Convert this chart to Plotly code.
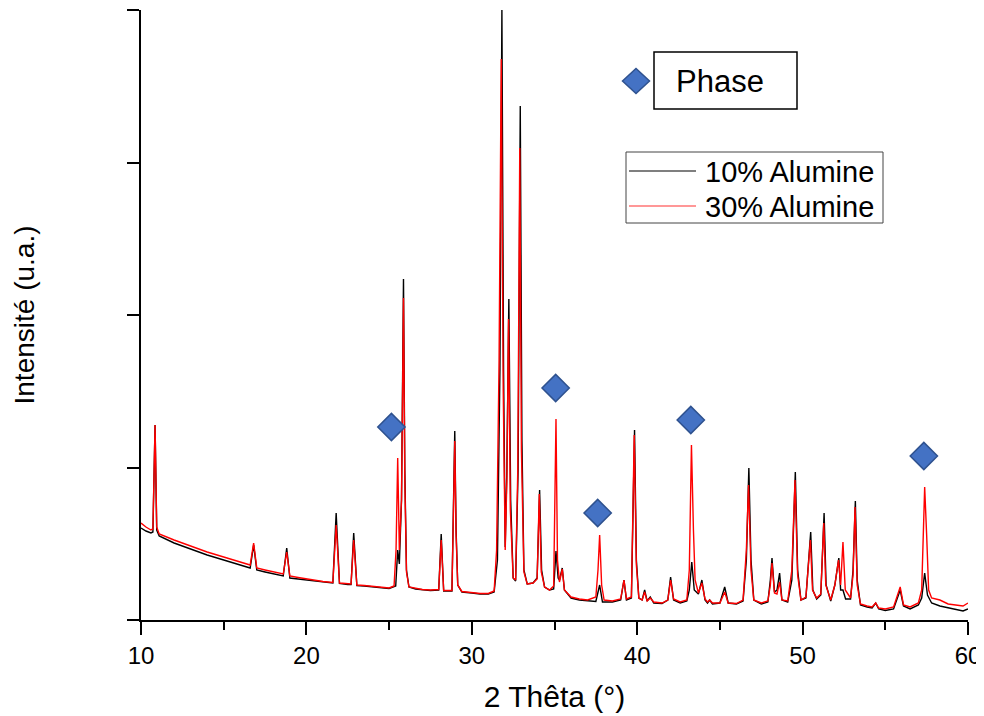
import plotly.graph_objects as go

# ---- Data ----
theta_10 = [10.00, 10.30, 10.60, 10.72, 10.85, 10.95, 11.10, 11.50, 12.00, 13.00, 14.00, 15.00, 16.00, 16.60,
            16.81, 17.00, 17.50, 18.00, 18.60, 18.81, 19.00, 19.50, 20.00, 20.50, 21.00, 21.60, 21.80, 22.00,
            22.50, 22.70, 22.86, 23.05, 23.50, 24.00, 24.50, 25.00, 25.40, 25.52, 25.62, 25.75, 25.87, 25.95,
            26.05, 26.20, 26.60, 27.00, 27.50, 28.00, 28.15, 28.30, 28.80, 28.97, 29.05, 29.15, 29.40, 30.00,
            30.50, 31.00, 31.35, 31.55, 31.70, 31.82, 31.92, 32.02, 32.12, 32.24, 32.35, 32.50, 32.65, 32.80,
            32.93, 33.03, 33.15, 33.35, 33.70, 33.95, 34.10, 34.22, 34.40, 34.70, 34.95, 35.09, 35.22, 35.30,
            35.47, 35.60, 36.00, 36.50, 37.00, 37.50, 37.73, 37.90, 38.50, 39.00, 39.20, 39.35, 39.65, 39.84,
            39.95, 40.10, 40.30, 40.45, 40.60, 40.79, 41.00, 41.50, 41.85, 42.02, 42.20, 42.60, 43.00, 43.15,
            43.30, 43.45, 43.70, 43.91, 44.10, 44.25, 44.38, 44.55, 45.00, 45.29, 45.50, 46.00, 46.40, 46.60,
            46.75, 46.88, 47.05, 47.50, 47.90, 48.05, 48.15, 48.30, 48.45, 48.61, 48.75, 49.10, 49.35, 49.56,
            49.70, 49.90, 50.20, 50.49, 50.62, 50.85, 51.10, 51.30, 51.42, 51.70, 51.95, 52.19, 52.30, 52.44,
            52.60, 52.90, 53.05, 53.19, 53.30, 53.50, 53.90, 54.20, 54.42, 54.60, 55.00, 55.50, 55.90, 56.10,
            56.50, 57.00, 57.20, 57.38, 57.55, 57.80, 58.30, 58.80, 59.30, 59.70, 60.00]
int_10 = [920, 890, 870, 880, 1950, 900, 840, 810, 770, 710, 650, 600, 550, 520,
          750, 500, 480, 460, 440, 720, 420, 410, 400, 385, 375, 370, 1070, 365,
          355, 355, 870, 345, 340, 330, 320, 315, 340, 700, 560, 1200, 3410, 1500,
          500, 330, 310, 300, 295, 300, 860, 290, 290, 1890, 900, 350, 280, 270,
          260, 260, 280, 600, 2500, 6100, 2500, 730, 1500, 3210, 1200, 420, 390, 1500,
          5140, 1800, 500, 360, 370, 420, 1300, 500, 330, 300, 310, 690, 420, 400,
          520, 300, 220, 200, 190, 185, 350, 180, 180, 200, 400, 200, 220, 1900,
          600, 220, 200, 300, 190, 230, 170, 165, 200, 430, 200, 170, 190, 300,
          580, 300, 260, 400, 200, 170, 200, 160, 170, 330, 170, 160, 190, 600,
          1520, 600, 200, 160, 180, 400, 620, 280, 300, 470, 200, 180, 400, 1480,
          500, 200, 220, 880, 300, 210, 250, 1070, 350, 190, 350, 620, 300, 300,
          210, 210, 500, 1190, 400, 150, 130, 120, 170, 110, 95, 110, 300, 140,
          110, 150, 220, 470, 250, 170, 140, 120, 100, 90, 110]

theta_30 = [10.00, 10.30, 10.60, 10.72, 10.85, 10.95, 11.10, 11.50, 12.00, 13.00, 14.00, 15.00, 16.00, 16.60,
            16.81, 17.00, 17.50, 18.00, 18.60, 18.81, 19.00, 19.50, 20.00, 20.50, 21.00, 21.60, 21.80, 22.00,
            22.50, 22.70, 22.86, 23.05, 23.50, 24.00, 24.50, 25.00, 25.30, 25.42, 25.52, 25.62, 25.75, 25.87,
            25.95, 26.05, 26.20, 26.60, 27.00, 27.50, 28.00, 28.15, 28.30, 28.80, 28.97, 29.05, 29.15, 29.40,
            30.00, 30.50, 31.00, 31.35, 31.50, 31.65, 31.78, 31.90, 32.02, 32.12, 32.22, 32.33, 32.50, 32.65,
            32.78, 32.90, 33.00, 33.15, 33.35, 33.70, 33.95, 34.08, 34.20, 34.40, 34.70, 34.95, 35.09, 35.18,
            35.30, 35.47, 35.60, 36.00, 36.50, 37.00, 37.50, 37.63, 37.73, 37.85, 38.00, 38.50, 39.00, 39.20,
            39.35, 39.65, 39.82, 39.95, 40.10, 40.30, 40.45, 40.60, 40.79, 41.00, 41.50, 41.85, 42.02, 42.20,
            42.60, 43.00, 43.15, 43.28, 43.40, 43.50, 43.70, 43.91, 44.10, 44.25, 44.38, 44.55, 45.00, 45.29,
            45.50, 46.00, 46.40, 46.60, 46.73, 46.88, 47.05, 47.50, 47.90, 48.05, 48.15, 48.30, 48.45, 48.61,
            48.75, 49.10, 49.35, 49.54, 49.70, 49.90, 50.20, 50.47, 50.60, 50.85, 51.10, 51.28, 51.40, 51.70,
            51.95, 52.17, 52.30, 52.44, 52.58, 52.90, 53.05, 53.17, 53.30, 53.50, 53.90, 54.20, 54.42, 54.60,
            55.00, 55.50, 55.90, 56.10, 56.50, 57.00, 57.20, 57.38, 57.50, 57.62, 57.80, 58.30, 58.80, 59.30,
            59.70, 60.00]
int_30 = [970, 930, 900, 910, 1950, 930, 860, 830, 800, 740, 680, 630, 580, 550,
          770, 520, 500, 480, 460, 680, 440, 425, 410, 395, 385, 375, 950, 370,
          360, 360, 800, 350, 345, 335, 325, 320, 340, 700, 1620, 700, 1200, 3220,
          1400, 480, 330, 315, 305, 300, 305, 800, 295, 295, 1790, 850, 350, 285,
          275, 265, 265, 290, 700, 2600, 5610, 2300, 700, 1400, 3010, 1100, 420, 400,
          1500, 4720, 1700, 480, 360, 370, 410, 1260, 480, 330, 300, 340, 2010, 600,
          380, 510, 300, 230, 210, 200, 230, 500, 850, 350, 200, 190, 210, 400,
          210, 230, 1850, 550, 220, 200, 280, 190, 220, 180, 170, 200, 400, 210,
          180, 200, 500, 1750, 900, 400, 270, 370, 210, 180, 200, 170, 170, 280,
          170, 165, 200, 700, 1350, 500, 200, 170, 190, 350, 570, 270, 260, 380,
          200, 190, 500, 1400, 450, 200, 230, 800, 300, 220, 260, 970, 350, 200,
          350, 600, 350, 780, 300, 220, 450, 1130, 350, 160, 140, 130, 170, 120,
          110, 130, 330, 150, 130, 170, 300, 1330, 850, 300, 220, 200, 160, 150,
          140, 170]

phase_theta = [25.14, 35.07, 37.61, 43.24, 57.33]
phase_int = [1930, 2320, 1070, 2000, 1640]

series_names = ["10% Alumine", "30% Alumine"]
x_ticks = [10, 20, 30, 40, 50, 60]
y_ticks = [0, 1525, 3050, 4575, 6100]

# ---- Figure ----
fig = go.Figure()
fig.add_trace(go.Scatter(x=theta_10, y=int_10, mode="lines", name=series_names[0],
                         line=dict(color="black", width=1.4), showlegend=False))
fig.add_trace(go.Scatter(x=theta_30, y=int_30, mode="lines", name=series_names[1],
                         line=dict(color="#FF0000", width=1.4), showlegend=False))
fig.add_trace(go.Scatter(x=phase_theta, y=phase_int, mode="markers", name="Phase",
                         marker=dict(symbol="diamond", size=21, color="#4472C4",
                                     line=dict(color="#2F528F", width=1.5)),
                         showlegend=False))

OFF = 8  # page body margin
W, H = 984 - OFF, 716 - OFF
L, R, T = 141 - OFF, 16, 10 - OFF
B = H - (620 - OFF)
PW, PH = W - L - R, H - T - B


def px(xp):
    return (xp - OFF - L) / PW


def py(yp):
    return (620 - yp) / PH


shapes = [
    # line legend box
    dict(type="rect", xref="paper", yref="paper", x0=px(626), x1=px(883), y0=py(223), y1=py(152),
         line=dict(color="#444444", width=1), fillcolor="white", layer="above"),
    dict(type="line", xref="paper", yref="paper", x0=px(629), x1=px(696), y0=py(171), y1=py(171),
         line=dict(color="black", width=1.2)),
    dict(type="line", xref="paper", yref="paper", x0=px(629), x1=px(696), y0=py(206), y1=py(206),
         line=dict(color="#FF3030", width=1.2)),
    # Phase box
    dict(type="rect", xref="paper", yref="paper", x0=px(654), x1=px(797), y0=py(109), y1=py(52),
         line=dict(color="black", width=1.5), fillcolor="white"),
    dict(type="path", xref="paper", yref="paper",
         path=f"M {px(622.5)} {py(81)} L {px(636)} {py(68.5)} L {px(649.5)} {py(81)} L {px(636)} {py(93.5)} Z",
         fillcolor="#4472C4", line=dict(color="#2F528F", width=1.5)),
]

annotations = [
    dict(text=series_names[0], xref="paper", yref="paper", x=px(703), y=py(172), xanchor="left",
         yanchor="middle", showarrow=False, font=dict(family="Liberation Sans, Arial", size=29, color="black")),
    dict(text=series_names[1], xref="paper", yref="paper", x=px(703), y=py(207), xanchor="left",
         yanchor="middle", showarrow=False, font=dict(family="Liberation Sans, Arial", size=29, color="black")),
    dict(text="Phase", xref="paper", yref="paper", x=px(674), y=py(82), xanchor="left",
         yanchor="middle", showarrow=False, font=dict(family="Liberation Sans, Arial", size=31, color="black")),
]

fig.update_layout(
    width=W, height=H,
    margin=dict(l=L, r=R, t=T, b=B, pad=0),
    paper_bgcolor="white", plot_bgcolor="white",
    shapes=shapes, annotations=annotations,
    font=dict(family="Liberation Sans, Arial", color="black"),
)

fig.update_xaxes(
    range=[10, 60], tickvals=x_ticks, ticktext=[str(v) for v in x_ticks],
    showline=True, linecolor="black", linewidth=2, mirror=False,
    ticks="outside", ticklen=13, tickwidth=2, tickcolor="black",
    minor=dict(ticks="outside", ticklen=8, tickwidth=2, tickcolor="black", dtick=5, tick0=10),
    showgrid=False, zeroline=False,
    tickfont=dict(family="Liberation Sans Narrow, Arial Narrow, Liberation Sans", size=24, color="black"),
    title=dict(text="2 Thêta (°)", font=dict(family="Liberation Sans, Arial", size=30, color="black"),
               standoff=18),
)
fig.update_yaxes(
    range=[0, 6100], tickvals=y_ticks, showticklabels=False,
    showline=True, linecolor="black", linewidth=2,
    ticks="outside", ticklen=12, tickwidth=2, tickcolor="black",
    showgrid=False, zeroline=False,
    title=dict(text="Intensité (u.a.)", font=dict(family="Liberation Sans, Arial", size=28, color="black"),
               standoff=84),
)

fig.write_html("out.html")
